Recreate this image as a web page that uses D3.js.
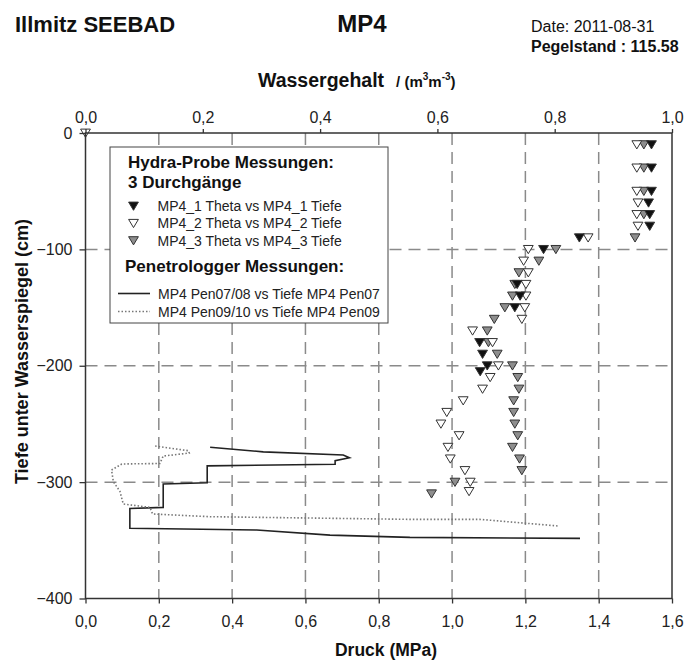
<!DOCTYPE html>
<html><head><meta charset="utf-8">
<script src="https://cdn.jsdelivr.net/npm/d3@7"></script>
<style>
body{margin:0;background:#fff;}
svg{display:block;font-family:"Liberation Sans",Arial,sans-serif;}
</style></head>
<body><svg id="c" width="687" height="662"></svg>
<script>
// ---- data ----
const mp4_1_depth = [-10,-30,-50,-60,-70,-80,-90,-100,-130,-140,-150,-180,-190,-200,-205];
const mp4_1_theta = [0.965,0.965,0.965,0.960,0.962,0.962,0.842,0.781,0.736,0.741,0.732,0.672,0.677,0.685,0.673];

const mp4_2_depth = [0,-10,-30,-50,-60,-70,-80,-90,-100,-110,-120,-130,-140,-150,-160,-170,-180,-200,-210,-220,-230,-240,-250,-260,-270,-280,-290,-300,-308];
const mp4_2_theta = [0.0,0.940,0.940,0.940,0.942,0.940,0.942,0.857,0.755,0.747,0.755,0.751,0.751,0.749,0.744,0.660,0.694,0.704,0.690,0.677,0.644,0.616,0.606,0.637,0.618,0.622,0.647,0.656,0.654];

const mp4_3_depth = [-10,-30,-50,-70,-90,-100,-110,-120,-130,-140,-150,-160,-170,-180,-190,-200,-210,-220,-230,-240,-250,-260,-270,-280,-290,-300,-310];
const mp4_3_theta = [0.952,0.952,0.952,0.952,0.937,0.802,0.773,0.739,0.732,0.728,0.715,0.697,0.685,0.687,0.702,0.728,0.737,0.739,0.730,0.730,0.732,0.737,0.728,0.740,0.744,0.630,0.590];

const pen0708_pressure = [0.340,0.485,0.703,0.720,0.681,0.681,0.332,0.332,0.212,0.212,0.121,0.121,0.467,0.667,0.885,1.349];
const pen0708_depth    = [-270,-274,-276.7,-279,-281.6,-284.7,-286,-300.5,-301.6,-321.7,-322.6,-339.7,-341.2,-345.5,-347.5,-348.3];

const pen0910_pressure = [0.190,0.281,0.283,0.212,0.203,0.099,0.071,0.076,0.094,0.103,0.176,0.183,0.340,0.885,1.076,1.290];
const pen0910_depth    = [-269,-273,-275,-277.6,-284,-284.4,-289.6,-299.6,-308,-318.8,-321.7,-327.4,-329.7,-332,-332,-337.7];

const pressureTicks = [0,0.2,0.4,0.6,0.8,1.0,1.2,1.4,1.6];
const thetaTicks = [0,0.2,0.4,0.6,0.8,1.0];
const depthTicks = [0,-100,-200,-300,-400];

const seriesNames = ["MP4_1 Theta vs MP4_1 Tiefe","MP4_2 Theta vs MP4_2 Tiefe","MP4_3 Theta vs MP4_3 Tiefe"];
const lineNames = ["MP4 Pen07/08 vs Tiefe MP4 Pen07","MP4 Pen09/10 vs Tiefe MP4 Pen09"];

// ---- layout ----
const L = 85.5, R = 672, T = 133, B = 598.5;
const svg = d3.select("#c");
const xP = d3.scaleLinear([0,1.6],[L,R]);
const xT = d3.scaleLinear([0,1],[L,R]);
const y = d3.scaleLinear([-400,0],[B,T]);
const fmt = v => d3.format(".1f")(v).replace(".",",");

svg.append("rect").attr("width",687).attr("height",662).attr("fill","#fff");

// grid
const grid = svg.append("g").attr("stroke","#8a8a8a").attr("stroke-width",1.5).attr("stroke-dasharray","12,7");
grid.selectAll("line.v").data(pressureTicks.slice(1,-1)).join("line")
  .attr("x1",d=>xP(d)).attr("x2",d=>xP(d)).attr("y1",T).attr("y2",B);
grid.selectAll("line.h").data(depthTicks.slice(1,-1)).join("line")
  .attr("x1",L).attr("x2",R).attr("y1",d=>y(d)).attr("y2",d=>y(d));

// lines
const lineGen = d3.line().x(d=>xP(d[0])).y(d=>y(d[1]));
svg.append("path").datum(pen0708_pressure.map((p,i)=>[p,pen0708_depth[i]]))
  .attr("d",lineGen).attr("fill","none").attr("stroke","#222").attr("stroke-width",1.6);
svg.append("path").datum(pen0910_pressure.map((p,i)=>[p,pen0910_depth[i]]))
  .attr("d",lineGen).attr("fill","none").attr("stroke","#777").attr("stroke-width",1.6).attr("stroke-dasharray","1.5,2");

// markers
const tri = "M-4.9,-3.9L4.9,-3.9L0,4.3Z";
function pts(depth, theta, fill){
  svg.append("g").selectAll("path").data(depth.map((d,i)=>[theta[i],d])).join("path")
    .attr("d",tri).attr("transform",d=>`translate(${xT(d[0])},${y(d[1])})`)
    .attr("fill",fill).attr("stroke","#333").attr("stroke-width",1);
}
pts(mp4_3_depth, mp4_3_theta, "#8e8e8e");
pts(mp4_2_depth, mp4_2_theta, "#fff");
pts(mp4_1_depth, mp4_1_theta, "#111");

// frame
svg.append("rect").attr("x",L).attr("y",T).attr("width",R-L).attr("height",B-T)
  .attr("fill","none").attr("stroke","#333").attr("stroke-width",1.5);

// axes
function styleAxis(g){
  g.select(".domain").remove();
  g.selectAll("line").attr("stroke","#333").attr("stroke-width",1.3);
  g.selectAll("text").attr("fill","#222").attr("font-size","16px").attr("font-family","Liberation Sans, Arial, sans-serif");
}
svg.append("g").attr("transform",`translate(0,${B})`)
  .call(d3.axisBottom(xP).tickValues(pressureTicks).tickFormat(fmt).tickSize(5).tickPadding(12)).call(styleAxis);
svg.append("g").attr("transform",`translate(0,${T})`)
  .call(d3.axisTop(xT).tickValues(thetaTicks).tickFormat(fmt).tickSize(4).tickPadding(6)).call(styleAxis);
svg.append("g").attr("transform",`translate(${L},0)`)
  .call(d3.axisLeft(y).tickValues(depthTicks).tickFormat(d3.format("d")).tickSize(6).tickPadding(7)).call(styleAxis);

// titles
svg.append("text").attr("x",15).attr("y",32).attr("font-size","22px").attr("font-weight","bold").attr("fill","#111").text("Illmitz SEEBAD");
svg.append("text").attr("x",362).attr("y",32).attr("text-anchor","middle").attr("font-size","24px").attr("font-weight","bold").attr("fill","#111").text("MP4");
svg.append("text").attr("x",531).attr("y",32).attr("font-size","16px").attr("fill","#111").text("Date: 2011-08-31");
svg.append("text").attr("x",531).attr("y",52).attr("font-size","16px").attr("font-weight","bold").attr("fill","#111").text("Pegelstand : 115.58");

const wt = svg.append("text").attr("x",258).attr("y",87).attr("font-weight","bold").attr("fill","#111");
wt.append("tspan").attr("font-size","19.5px").text("Wassergehalt");
wt.append("tspan").attr("font-size","15px").attr("dx",12).text("/ (m");
wt.append("tspan").attr("font-size","10px").attr("dy",-7).text("3");
wt.append("tspan").attr("font-size","15px").attr("dy",7).text("m");
wt.append("tspan").attr("font-size","10px").attr("dy",-7).text("-3");
wt.append("tspan").attr("font-size","15px").attr("dy",7).text(")");

svg.append("text").attr("x",386).attr("y",656).attr("text-anchor","middle").attr("font-size","17.5px").attr("font-weight","bold").attr("fill","#111").text("Druck (MPa)");
svg.append("text").attr("transform","translate(28,351.5) rotate(-90)").attr("text-anchor","middle")
  .attr("font-size","18px").attr("font-weight","bold").attr("fill","#111").text("Tiefe unter Wasserspiegel (cm)");

// legend
const lg = svg.append("g");
lg.append("rect").attr("x",110).attr("y",147).attr("width",278).attr("height",176)
  .attr("fill","#fff").attr("stroke","#444").attr("stroke-width",1);
lg.append("text").attr("x",128).attr("y",168).attr("font-size","17px").attr("font-weight","bold").attr("fill","#111").text("Hydra-Probe Messungen:");
lg.append("text").attr("x",128).attr("y",188).attr("font-size","17px").attr("font-weight","bold").attr("fill","#111").text("3 Durchgänge");
const fills = ["#111","#fff","#8e8e8e"];
seriesNames.forEach((n,i)=>{
  const yy = 206 + i*17.3;
  lg.append("path").attr("d",tri).attr("transform",`translate(133.5,${yy})`).attr("fill",fills[i]).attr("stroke","#333").attr("stroke-width",1);
  lg.append("text").attr("x",157.5).attr("y",yy+5).attr("font-size","14px").attr("fill","#222").text(n);
});
lg.append("text").attr("x",125).attr("y",272).attr("font-size","17px").attr("font-weight","bold").attr("fill","#111").text("Penetrologger Messungen:");
lineNames.forEach((n,i)=>{
  const yy = 293.5 + i*18;
  const l = lg.append("line").attr("x1",118).attr("x2",150).attr("y1",yy).attr("y2",yy).attr("stroke-width",1.6);
  if(i===0) l.attr("stroke","#222"); else l.attr("stroke","#777").attr("stroke-dasharray","1.5,2");
  lg.append("text").attr("x",158).attr("y",yy+5).attr("font-size","14px").attr("fill","#222").text(n);
});
</script>
</body></html>
